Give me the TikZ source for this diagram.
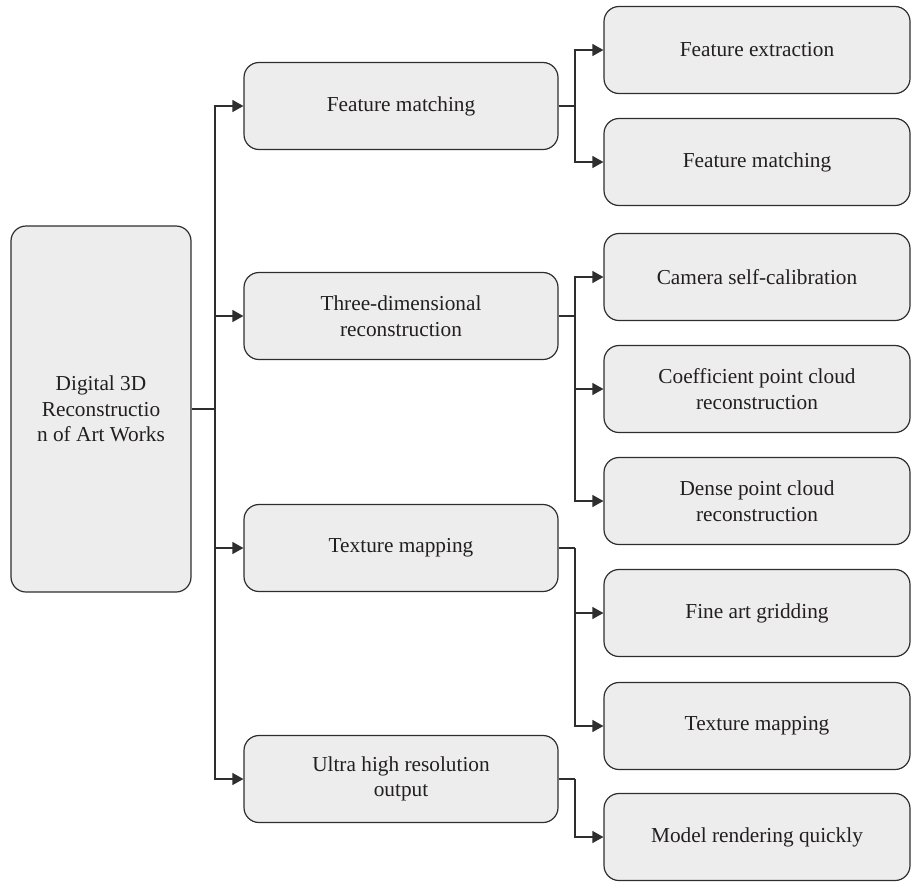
\documentclass[tikz,border=0pt]{standalone}
\usepackage{fontspec}
\setmainfont{Liberation Serif}
\newfontfamily\diagfont{Liberation Serif}
\usetikzlibrary{arrows.meta}
\definecolor{boxfill}{HTML}{EDEDED}
\definecolor{boxline}{HTML}{2E2E2E}
\definecolor{txt}{HTML}{231F20}
\begin{document}
\begin{tikzpicture}[x=1pt,y=-1pt,
  every node/.style={font=\diagfont\fontsize{21.3}{25.5}\selectfont, text=txt, align=center, inner sep=0pt},
  box/.style={draw=boxline, fill=boxfill, line width=1.2pt, rounded corners=15pt},
  rootbox/.style={box, minimum width=180pt, minimum height=366pt},
  midbox/.style={box, minimum width=314pt, minimum height=87pt},
  leafbox/.style={box, minimum width=306pt, minimum height=87pt},
  link/.style={draw=boxline, line width=1.2pt},
  arr/.style={link, -{Triangle[length=11pt,width=12pt]}}]
\useasboundingbox (0,0) rectangle (912,881);

% root
\node[rootbox] (root) at (101,409) {Digital 3D\\Reconstructio\\n of Art Works};

% second level
\node[midbox] (m1) at (401,106) {Feature matching};
\node[midbox] (m2) at (401,316) {Three-dimensional\\reconstruction};
\node[midbox] (m3) at (401,548) {Texture mapping};
\node[midbox] (m4) at (401,779) {Ultra high resolution\\output};

% third level
\node[leafbox] (r1) at (757,50)  {Feature extraction};
\node[leafbox] (r2) at (757,162) {Feature matching};
\node[leafbox] (r3) at (757,277) {Camera self-calibration};
\node[leafbox] (r4) at (757,389) {Coefficient point cloud\\reconstruction};
\node[leafbox] (r5) at (757,501) {Dense point cloud\\reconstruction};
\node[leafbox] (r6) at (757,613) {Fine art gridding};
\node[leafbox] (r7) at (757,726) {Texture mapping};
\node[leafbox] (r8) at (757,837) {Model rendering quickly};

% junction points
\coordinate (t)  at (215,409);
\coordinate (b1) at (575,106);
\coordinate (b2) at (575,316);
\coordinate (b3) at (575,548);
\coordinate (b4) at (575,779);

% root to second level
\draw[link] (root.east) -- (t);
\foreach \m in {m1,m2,m3,m4} \draw[arr] (t) |- (\m.west);

% second level to third level
\draw[link] (m1.east) -- (b1);
\draw[arr] (b1) |- (r1.west);
\draw[arr] (b1) |- (r2.west);

\draw[link] (m2.east) -- (b2);
\draw[arr] (b2) |- (r3.west);
\draw[arr] (b2) |- (r4.west);
\draw[arr] (b2) |- (r5.west);

\draw[link] (m3.east) -- (b3);
\draw[arr] (b3) |- (r6.west);
\draw[arr] (b3) |- (r7.west);

\draw[link] (m4.east) -- (b4);
\draw[arr] (b4) |- (r8.west);
\end{tikzpicture}
\end{document}
